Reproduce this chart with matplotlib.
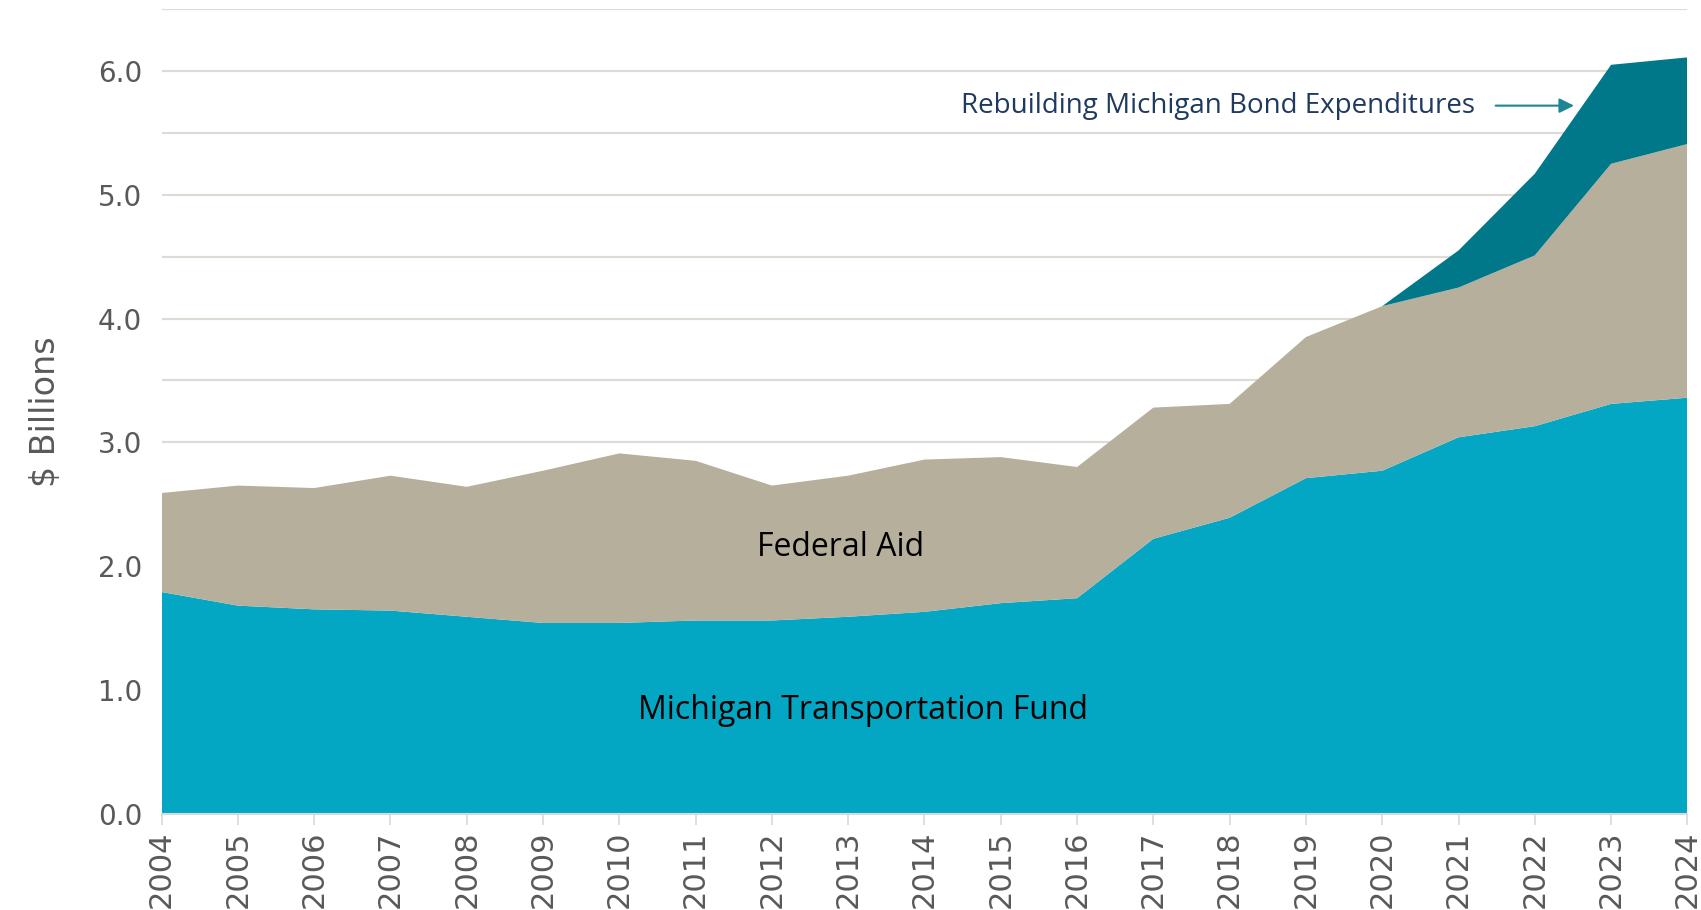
import numpy as np
import matplotlib.pyplot as plt

years = list(range(2004, 2025))
mtf = [1.79, 1.68, 1.65, 1.64, 1.59, 1.54, 1.54, 1.56, 1.56, 1.59, 1.63,
       1.70, 1.74, 2.22, 2.39, 2.71, 2.77, 3.04, 3.13, 3.31, 3.36]
federal = [0.80, 0.97, 0.98, 1.09, 1.05, 1.23, 1.37, 1.29, 1.09, 1.14, 1.23,
           1.18, 1.06, 1.06, 0.92, 1.14, 1.33, 1.21, 1.38, 1.94, 2.05]
bond = [0, 0, 0, 0, 0, 0, 0, 0, 0, 0, 0,
        0, 0, 0, 0, 0, 0, 0.30, 0.66, 0.80, 0.70]

C_MTF = "#03A7C4"
C_FED = "#B5AF9B"
C_BOND = "#00788A"
NARROW = ["Liberation Sans Narrow", "DejaVu Sans"]
LABEL_FONT = ["Open Sans", "DejaVu Sans"]

fig = plt.figure(figsize=(17.01, 9.10), dpi=100)
ax = fig.add_axes([0.095, 0.106, 0.897, 0.884])

ax.stackplot(years, mtf, federal, bond, colors=[C_MTF, C_FED, C_BOND],
             linewidth=0, zorder=2)

ax.set_xlim(2004, 2024)
ax.set_ylim(0, 6.5)
ax.set_yticks(np.arange(0, 6.5, 1.0))
ax.set_yticklabels([f"{v:.1f}" for v in np.arange(0, 6.5, 1.0)],
                   fontsize=20, color="#595959")
ax.set_yticks(np.arange(0, 6.6, 0.5), minor=True)
ax.grid(axis="y", which="both", color="#DDDBD6", linewidth=1.6, zorder=0)
ax.tick_params(axis="y", which="both", length=0, pad=14)

ax.set_xticks(years)
ax.set_xticklabels([str(y) for y in years], rotation=90, fontsize=22,
                   color="#595959", family=NARROW)
ax.tick_params(axis="x", length=8, width=1.2, color="#D9D9D9", pad=4)

for s in ["top", "right", "left"]:
    ax.spines[s].set_visible(False)
ax.spines["bottom"].set_color("#D9D9D9")
ax.spines["bottom"].set_linewidth(1.5)

ax.set_ylabel("$ Billions", fontsize=24, color="#595959", family=NARROW,
              labelpad=26)

ax.text(2012.9, 2.15, "Federal Aid", fontsize=23, color="black",
        ha="center", va="center", family=LABEL_FONT)
ax.text(2013.2, 0.83, "Michigan Transportation Fund", fontsize=23,
        color="black", ha="center", va="center", family=LABEL_FONT)
ax.text(2017.85, 5.72, "Rebuilding Michigan Bond Expenditures", fontsize=20,
        color="#1F3A5F", ha="center", va="center", family=LABEL_FONT)
ax.annotate("", xy=(2022.55, 5.72), xytext=(2021.45, 5.72),
            arrowprops=dict(arrowstyle="-|>", color="#1E8595", lw=1.5,
                            mutation_scale=22))

fig.savefig("out.png", dpi=100)
